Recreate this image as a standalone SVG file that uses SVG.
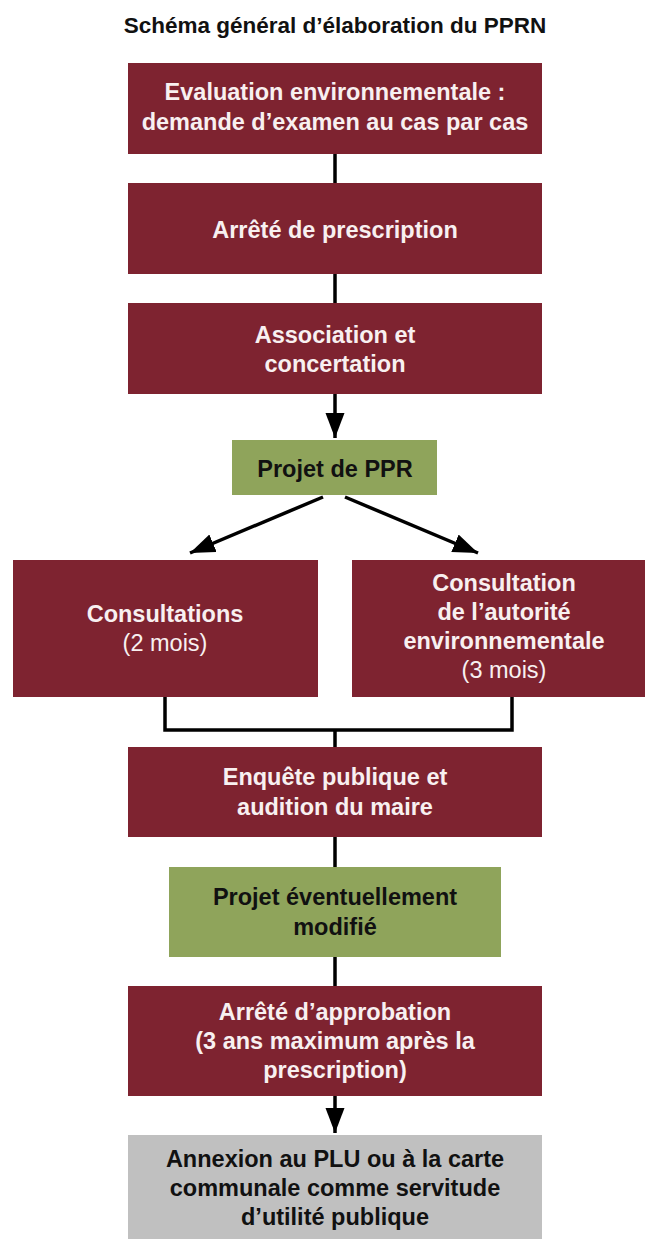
<svg xmlns="http://www.w3.org/2000/svg" width="645" height="1239" viewBox="0 0 645 1239">
<defs>
<marker id="ah" markerUnits="userSpaceOnUse" markerWidth="26" markerHeight="20" refX="25" refY="9.5" orient="auto">
<path d="M0,0 L25,9.5 L0,19 z" fill="#000"/>
</marker>
<style>
.red{fill:#7e2330}
.green{fill:#8fa45b}
.gray{fill:#c0c0c0}
text{font-family:"Liberation Sans",Arial,sans-serif;font-size:23.5px;text-anchor:middle;font-weight:bold}
.w{fill:#f8f0f0}
.k{fill:#111}
.reg{font-weight:normal}
.title{font-size:22.5px}
.c{fill:none;stroke:#000;stroke-width:3.5}
</style>
</defs>
<rect width="645" height="1239" fill="#fff"/>
<text class="k title" x="335" y="33">Schéma général d’élaboration du PPRN</text>
<g id="connectors">
<line class="c" x1="335" y1="154" x2="335" y2="183"/>
<line class="c" x1="335" y1="274" x2="335" y2="303"/>
<line class="c" x1="335" y1="394" x2="335" y2="438" marker-end="url(#ah)"/>
<line class="c" x1="323" y1="497" x2="190" y2="553" marker-end="url(#ah)"/>
<line class="c" x1="345" y1="497" x2="478" y2="553" marker-end="url(#ah)"/>
<polyline class="c" points="165,697 165,730 512,730 512,697"/>
<line class="c" x1="335" y1="730" x2="335" y2="747"/>
<line class="c" x1="335" y1="837" x2="335" y2="867"/>
<line class="c" x1="335" y1="957" x2="335" y2="986"/>
<line class="c" x1="335" y1="1096" x2="335" y2="1133" marker-end="url(#ah)"/>
</g>
<g id="n1">
<rect class="red" x="128" y="63" width="414" height="91"/>
<text class="w" x="335" y="100">Evaluation environnementale :</text>
<text class="w" x="335" y="130">demande d’examen au cas par cas</text>
</g>
<g id="n2">
<rect class="red" x="128" y="183" width="414" height="91"/>
<text class="w" x="335" y="238">Arrêté de prescription</text>
</g>
<g id="n3">
<rect class="red" x="128" y="303" width="414" height="91"/>
<text class="w" x="335" y="343">Association et</text>
<text class="w" x="335" y="372">concertation</text>
</g>
<g id="n4">
<rect class="green" x="232" y="440" width="205" height="55"/>
<text class="k" x="335" y="477">Projet de PPR</text>
</g>
<g id="n5">
<rect class="red" x="13" y="560" width="305" height="137"/>
<text class="w" x="165" y="622">Consultations</text>
<text class="w reg" x="165" y="651">(2 mois)</text>
</g>
<g id="n6">
<rect class="red" x="352" y="560" width="305" height="137"/>
<text class="w" x="504" y="591">Consultation</text>
<text class="w" x="504" y="620">de l’autorité</text>
<text class="w" x="504" y="649">environnementale</text>
<text class="w reg" x="504" y="678">(3 mois)</text>
</g>
<g id="n7">
<rect class="red" x="128" y="747" width="414" height="90"/>
<text class="w" x="335" y="785">Enquête publique et</text>
<text class="w" x="335" y="815">audition du maire</text>
</g>
<g id="n8">
<rect class="green" x="169" y="867" width="332" height="90"/>
<text class="k" x="335" y="905">Projet éventuellement</text>
<text class="k" x="335" y="935">modifié</text>
</g>
<g id="n9">
<rect class="red" x="128" y="986" width="414" height="110"/>
<text class="w" x="335" y="1020">Arrêté d’approbation</text>
<text class="w" x="335" y="1049">(3 ans maximum après la</text>
<text class="w" x="335" y="1078">prescription)</text>
</g>
<g id="n10">
<rect class="gray" x="128" y="1135" width="414" height="110"/>
<text class="k" x="335" y="1167">Annexion au PLU ou à la carte</text>
<text class="k" x="335" y="1196">communale comme servitude</text>
<text class="k" x="335" y="1225">d’utilité publique</text>
</g>
</svg>
